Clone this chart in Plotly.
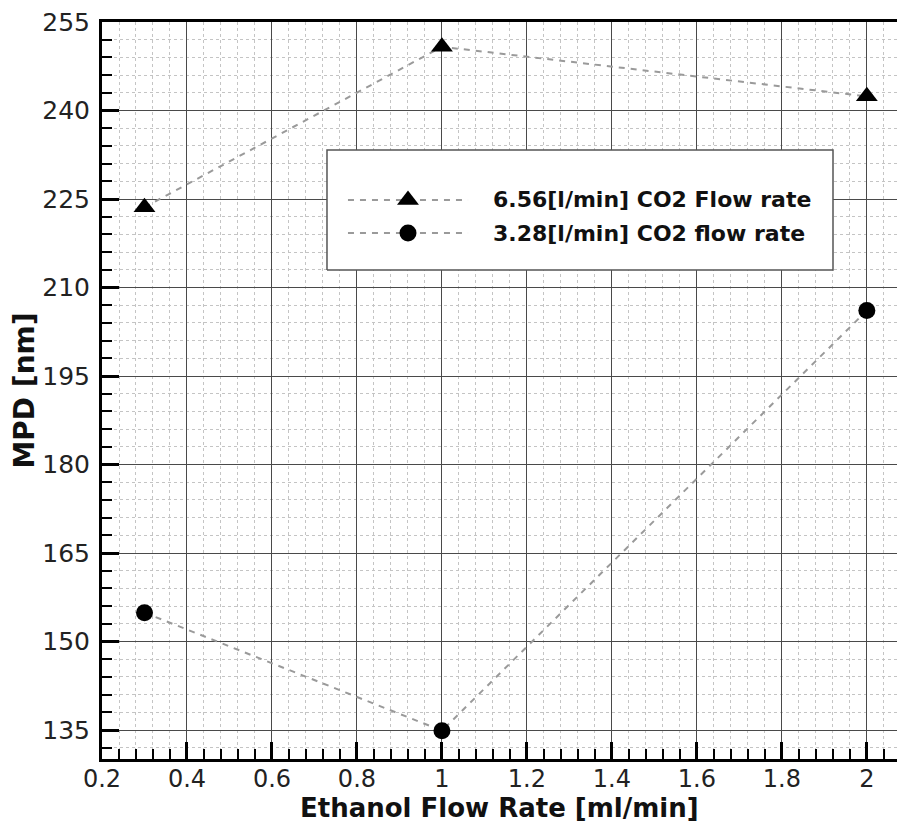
import plotly.graph_objects as go

# Data
ethanol_flow = [0.3, 1.0, 2.0]
mpd_656 = [223.6, 250.8, 242.4]
mpd_328 = [154.9, 134.9, 206.1]
series_names = ["6.56[l/min] CO2 Flow rate", "3.28[l/min] CO2 flow rate"]
x_title = "Ethanol Flow Rate [ml/min]"
y_title = "MPD [nm]"

FONT = "DejaVu Sans, Liberation Sans, Arial, sans-serif"
LINE_COL = "#9a9a9a"

fig = go.Figure()
fig.add_trace(go.Scatter(
    x=ethanol_flow, y=mpd_656, mode="lines+markers", name=series_names[0],
    line=dict(color=LINE_COL, width=2, dash="6px,6px"),
    marker=dict(symbol="triangle-up", size=19, color="black"),
    showlegend=False, cliponaxis=False))
fig.add_trace(go.Scatter(
    x=ethanol_flow, y=mpd_328, mode="lines+markers", name=series_names[1],
    line=dict(color=LINE_COL, width=2, dash="6px,6px"),
    marker=dict(symbol="circle", size=17, color="black"),
    showlegend=False, cliponaxis=False))

# custom legend drawn on an overlay axis pair spanning the plot area (0..1)
box_x = [0.283, 0.9195, 0.9195, 0.283, 0.283]
box_y = [0.6635, 0.6635, 0.8263, 0.8263, 0.6635]
fig.add_trace(go.Scatter(
    x=box_x, y=box_y, mode="lines", fill="toself", fillcolor="white",
    line=dict(color="#555", width=1.5), xaxis="x2", yaxis="y2",
    showlegend=False, hoverinfo="skip"))

leg_y = [0.7585, 0.7137]
leg_x0, leg_x1, leg_xm, leg_xt = 0.3094, 0.4604, 0.3849, 0.4893
symbols = ["triangle-up", "circle"]
sizes = [19, 17]
for i in range(2):
    fig.add_trace(go.Scatter(
        x=[leg_x0, leg_x1], y=[leg_y[i], leg_y[i]], mode="lines",
        line=dict(color=LINE_COL, width=2, dash="6px,6px"),
        xaxis="x2", yaxis="y2", showlegend=False, hoverinfo="skip"))
    fig.add_trace(go.Scatter(
        x=[leg_xm], y=[leg_y[i]], mode="markers",
        marker=dict(symbol=symbols[i], size=sizes[i], color="black"),
        xaxis="x2", yaxis="y2", showlegend=False, hoverinfo="skip"))
    fig.add_annotation(x=leg_xt, y=leg_y[i], xref="x2", yref="y2",
                       text="<b>%s</b>" % series_names[i], showarrow=False,
                       xanchor="left", yanchor="middle",
                       font=dict(family=FONT, size=22, color="#111"))

# x-axis title as annotation for precise placement
fig.add_annotation(x=0.5, y=-0.0665, xref="paper", yref="paper",
                   text="<b>%s</b>" % x_title, showarrow=False,
                   xanchor="center", yanchor="middle",
                   font=dict(family=FONT, size=26, color="#111"))

axis_common = dict(
    showline=True, linecolor="black", linewidth=3, mirror=True,
    ticks="inside", ticklen=17, tickwidth=3, tickcolor="black",
    showgrid=True, gridcolor="#4a4a4a", gridwidth=1.2,
    tickfont=dict(family=FONT, size=24, color="#222"),
    zeroline=False,
)

fig.update_layout(
    width=897, height=825,
    margin=dict(l=102, r=0, t=22, b=66),
    paper_bgcolor="white", plot_bgcolor="white",
    xaxis=dict(range=[0.2, 2.071], tick0=0.2, dtick=0.2,
               minor=dict(dtick=0.04, ticks="inside", ticklen=10, tickwidth=2,
                          tickcolor="black", showgrid=True, gridcolor="#c4c4c4",
                          griddash="dot", gridwidth=1),
               ticklabelstandoff=-4,
               **axis_common),
    yaxis=dict(range=[130.1, 255], tick0=135, dtick=15,
               minor=dict(dtick=3, ticks="inside", ticklen=10, tickwidth=2,
                          tickcolor="black", showgrid=True, gridcolor="#c4c4c4",
                          griddash="dot", gridwidth=1),
               title=dict(text="<b>%s</b>" % y_title, standoff=0,
                          font=dict(family=FONT, size=28, color="#111")),
               ticklabelstandoff=4,
               **{**axis_common, "mirror": False,
                  "tickfont": dict(family=FONT, size=25, color="#222")}),
    xaxis2=dict(overlaying="x", range=[0, 1], visible=False),
    yaxis2=dict(overlaying="y", range=[0, 1], visible=False),
    showlegend=False,
)

fig.write_html("out.html")
